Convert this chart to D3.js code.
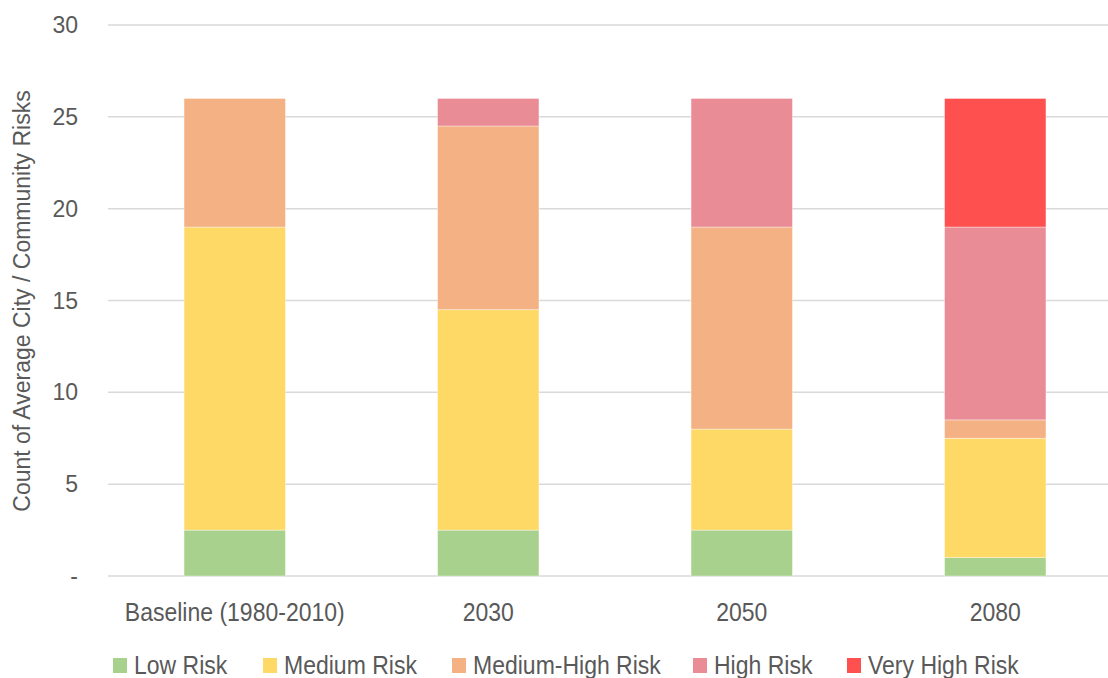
<!DOCTYPE html>
<html>
<head>
<meta charset="utf-8">
<script src="https://cdn.jsdelivr.net/npm/d3@7"></script>
<style>
  body { margin: 0; background: #fff; }
  text { font-family: "Liberation Sans", Arial, sans-serif; fill: #595959; }
</style>
</head>
<body>
<script>
// chart data
var categories = ["Baseline (1980-2010)", "2030", "2050", "2080"];
var seriesNames = ["Low Risk", "Medium Risk", "Medium-High Risk", "High Risk", "Very High Risk"];
var seriesColors = ["#a9d18e", "#ffd966", "#f4b183", "#ea8c96", "#ff5050"];
var lowRisk = [2.5, 2.5, 2.5, 1];
var mediumRisk = [16.5, 12, 5.5, 6.5];
var mediumHighRisk = [7, 10, 11, 1];
var highRisk = [0, 1.5, 7, 10.5];
var veryHighRisk = [0, 0, 0, 7];
var yTicks = [0, 5, 10, 15, 20, 25, 30];

var svgWidth = 1108;
var svgHeight = 678;
var squeeze = 0.92; // the text in the picture is a bit condensed

var svg = d3.select("body")
  .append("svg")
  .attr("width", svgWidth)
  .attr("height", svgHeight);

// build rows for the stack
var keys = ["low", "medium", "mediumHigh", "high", "veryHigh"];
var rows = categories.map(function(c, i) {
  return {
    cat: c,
    low: lowRisk[i],
    medium: mediumRisk[i],
    mediumHigh: mediumHighRisk[i],
    high: highRisk[i],
    veryHigh: veryHighRisk[i]
  };
});
var stacked = d3.stack().keys(keys)(rows);

var xScale = d3.scaleBand()
  .domain(categories)
  .range([108, 1122])
  .paddingInner(0.6)
  .paddingOuter(0.3);

var yScale = d3.scaleLinear()
  .domain([0, 30])
  .range([576, 25]);

// gridlines
svg.append("g")
  .selectAll("line")
  .data(yTicks)
  .enter()
  .append("line")
  .attr("x1", 108)
  .attr("x2", svgWidth)
  .attr("y1", d => yScale(d))
  .attr("y2", d => yScale(d))
  .attr("stroke", "#d9d9d9")
  .attr("stroke-width", 1.5);

// y tick labels
svg.append("g")
  .selectAll("text")
  .data(yTicks)
  .enter()
  .append("text")
  .attr("x", 78)
  .attr("y", d => yScale(d) + 8)
  .attr("text-anchor", "end")
  .style("font-size", "23px")
  .text(d => d === 0 ? "-" : d);

// y axis title
svg.append("text")
  .attr("transform", "translate(30, 301) rotate(-90)")
  .attr("text-anchor", "middle")
  .style("font-size", "23px")
  .text("Count of Average City / Community Risks");

// bars
svg.append("g")
  .selectAll("g")
  .data(stacked)
  .enter()
  .append("g")
  .attr("fill", (d, i) => seriesColors[i])
  .selectAll("rect")
  .data(d => d)
  .enter()
  .append("rect")
  .attr("x", d => xScale(d.data.cat))
  .attr("width", xScale.bandwidth())
  .attr("y", d => yScale(d[1]))
  .attr("height", d => yScale(d[0]) - yScale(d[1]))
  .attr("stroke", "rgba(255,255,255,0.5)")
  .attr("stroke-width", 0.75);

// x labels
svg.append("g")
  .selectAll("text")
  .data(categories)
  .enter()
  .append("text")
  .attr("transform", d => `translate(${xScale(d) + xScale.bandwidth() / 2}, 621) scale(${squeeze}, 1)`)
  .attr("text-anchor", "middle")
  .style("font-size", "25px")
  .text(d => d);

// legend
var legendX = [113, 263, 452, 693, 847];
var legend = svg.append("g");
seriesNames.forEach(function(name, i) {
  legend.append("rect")
    .attr("x", legendX[i])
    .attr("y", 658)
    .attr("width", 14)
    .attr("height", 15)
    .attr("fill", seriesColors[i]);
  legend.append("text")
    .attr("transform", `translate(${legendX[i] + 21}, 674) scale(${squeeze}, 1)`)
    .style("font-size", "25px")
    .text(name);
});
</script>
</body>
</html>
